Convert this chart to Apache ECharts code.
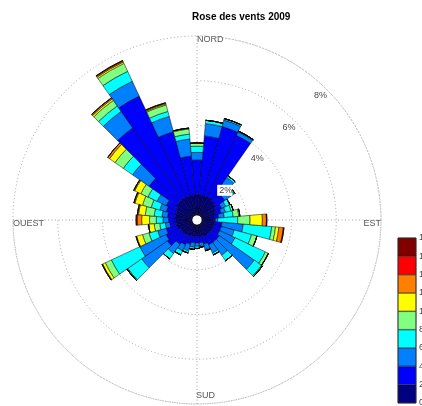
<!DOCTYPE html>
<html>
<head>
<meta charset="utf-8">
<script src="https://cdn.jsdelivr.net/npm/echarts@6/dist/echarts.min.js"></script>
<style>
html,body{margin:0;padding:0;background:#fff}
#main{width:422px;height:406px}
</style>
</head>
<body>
<div id="main"></div>
<script>
// directions (deg, clockwise from north)
var directions = [];
for (var d = 0; d < 360; d += 10) directions.push(String(d));

// speed classes (edges of the colour bar)
var speedEdges = [0, 2, 4, 6, 8, 10, 12, 14, 16, 18];
var binColors = ['#000080', '#0000ff', '#0080ff', '#00ffff', '#80ff80', '#ffff00', '#ff8000', '#ff0000', '#800000'];
var ringTicks = [2, 4, 6, 8];
var compass = ['NORD', 'EST', 'SUD', 'OUEST'];

// % of time per sector, one list per speed class (0,10,...,350 deg)
var v0_2 = [0.9,0.9,0.9,0.9,0.85,0.8,0.7,0.6,0.55,0.5,0.55,0.55,0.55,0.55,0.55,0.55,0.5,0.5,0.5,0.5,0.5,0.55,0.6,0.6,0.6,0.7,0.7,0.75,0.75,0.75,0.8,0.9,0.9,0.9,0.9,0.9];
var v2_4 = [1.56,2.65,3.2,3.05,0.85,0.5,0.3,0.3,0.2,0.1,0.35,0.35,0.35,0.45,0.45,0.45,0.4,0.3,0.3,0.3,0.4,0.45,0.5,0.8,0.7,0.5,0.3,0.3,0.35,0.45,0.5,1.5,3.9,4.99,2.96,1.75];
var v4_6 = [0.34,0.55,0.3,0.17,0.4,0.3,0.2,0.2,0.25,0.1,0.95,0.6,0.75,1.9,0.7,0.4,0.25,0.15,0.15,0.2,0.3,0.3,0.5,1.4,1.3,0.4,0.2,0.25,0.25,0.3,0.45,0.9,0.9,0.73,0.71,0.76];
var v6_8 = [0.28,0.15,0.07,0.04,0.09,0.2,0.2,0.25,0.4,0.9,1.28,0.8,1.5,0.4,0.3,0.1,0.05,0.05,0.1,0.1,0.1,0.2,0.3,0.75,1.4,0.4,0.25,0.3,0.35,0.4,0.45,0.5,0.3,0.49,0.23,0.22];
var v8_10 = [0.14,0,0,0,0,0.05,0,0.1,0.25,0.55,0.17,0.25,0.15,0.05,0,0,0,0,0,0,0,0,0,0.05,0.3,0.3,0.25,0.3,0.4,0.4,0.35,0.45,0.3,0.39,0.3,0.23];
var v10_12 = [0,0,0,0,0,0,0,0,0.05,0.55,0.15,0,0,0,0,0,0,0,0,0,0,0,0,0,0.13,0.27,0.25,0.35,0.3,0.35,0.3,0.3,0.08,0.07,0.05,0.04];
var v12_14 = [0,0,0,0,0,0,0,0,0,0.18,0.2,0,0,0,0,0,0,0,0,0,0,0,0,0,0.03,0.03,0,0.2,0.05,0.05,0.05,0.1,0.06,0.05,0.05,0];
var v14_16 = [0,0,0,0,0,0,0,0,0,0.02,0.03,0,0,0,0,0,0,0,0,0,0,0,0,0,0,0,0,0.05,0,0,0,0,0,0.02,0,0];
var v16_18 = [0,0,0,0,0,0,0,0,0,0,0,0,0,0,0,0,0,0,0,0,0,0,0,0,0,0,0,0,0,0,0,0,0,0.01,0,0];
var bins = [v0_2, v2_4, v4_6, v6_8, v8_10, v10_12, v12_14, v14_16, v16_18];

var CX = 197, CY = 220, R_IN = 5, R_OUT = 184;
var FONT = 'Liberation Sans, Arial, sans-serif';

var myChart = echarts.init(document.getElementById('main'));

var series = [];
for (var k = 0; k < bins.length; k++) {
    series.push({
        name: speedEdges[k] + '-' + speedEdges[k + 1],
        type: 'bar',
        coordinateSystem: 'polar',
        polarIndex: 0,
        stack: 'rose',
        barCategoryGap: '0%',
        data: bins[k],
        itemStyle: {color: binColors[k], borderColor: '#000', borderWidth: 0.5},
        silent: true
    });
}
// colour bar
for (var k = 0; k < bins.length; k++) {
    series.push({
        type: 'bar',
        xAxisIndex: 0,
        yAxisIndex: 0,
        stack: 'cb',
        barWidth: '100%',
        data: [speedEdges[k + 1] - speedEdges[k]],
        itemStyle: {color: binColors[k], borderColor: '#000', borderWidth: 0.5},
        silent: true
    });
}

var dotted = {color: '#a0a0a0', width: 1, type: [1, 2.5]};

var option = {
    animation: false,
    title: {
        text: 'Rose des vents 2009',
        left: 192, top: 12, padding: 0,
        textStyle: {fontSize: 10, fontWeight: 'bold', color: '#000', fontFamily: FONT}
    },
    polar: [
        {center: [CX, CY], radius: [R_IN, R_OUT]},
        {center: [CX, CY], radius: [R_IN, R_OUT]},
        {center: [CX, CY], radius: [R_IN, R_OUT]}
    ],
    angleAxis: [
        {polarIndex: 0, type: 'category', data: directions, startAngle: 95,
         axisLine: {show: false}, axisTick: {show: false}, axisLabel: {show: false}, splitLine: {show: false}},
        {polarIndex: 1, type: 'category', data: compass, startAngle: 90, boundaryGap: false, z: 0,
         axisLine: {show: true, lineStyle: dotted}, axisTick: {show: false}, axisLabel: {show: false},
         splitLine: {show: true, lineStyle: dotted}},
        {polarIndex: 2, type: 'category', data: compass, startAngle: 45, boundaryGap: false,
         axisLine: {show: false}, axisTick: {show: false}, axisLabel: {show: false}, splitLine: {show: false}}
    ],
    radiusAxis: [
        {polarIndex: 0, min: 0, max: 8, axisLine: {show: false}, axisTick: {show: false},
         axisLabel: {show: false}, splitLine: {show: false}},
        {polarIndex: 1, min: 0, max: 8, interval: 2, z: 0, axisLine: {show: false}, axisTick: {show: false},
         axisLabel: {show: false}, splitLine: {show: true, lineStyle: dotted}},
        {polarIndex: 2, min: 0, max: 8, interval: 2, z: 10, axisLine: {show: false}, axisTick: {show: false},
         splitLine: {show: false},
         axisLabel: {show: true, showMinLabel: false, margin: 0, align: 'right', verticalAlign: 'top',
             formatter: '{value}%', color: '#444', fontSize: 9, fontFamily: FONT,
             backgroundColor: '#fff', padding: [1, 0, 1, 2]}}
    ],
    grid: {left: 398, top: 238, width: 18, height: 165, outerBoundsMode: 'none',
        show: true, borderColor: '#333', borderWidth: 1},
    xAxis: {type: 'category', data: [''], show: false},
    yAxis: {type: 'value', min: speedEdges[0], max: speedEdges[speedEdges.length - 1], interval: 2,
        position: 'right', axisLine: {show: false}, axisTick: {show: false}, splitLine: {show: false},
        axisLabel: {color: '#444', fontSize: 9, margin: 3, fontFamily: FONT}},
    graphic: [
        {type: 'text', left: CX, top: CY - R_OUT - 1, style: {text: compass[0], fill: '#555', font: '9px ' + FONT}},
        {type: 'text', left: CX - 1, top: CY + R_OUT - 13, style: {text: compass[2], fill: '#555', font: '9px ' + FONT}},
        {type: 'text', left: CX - R_OUT, top: CY - 1, style: {text: compass[3], fill: '#555', font: '9px ' + FONT}},
        {type: 'text', right: 422 - CX - R_OUT, top: CY - 1, style: {text: compass[1], fill: '#555', font: '9px ' + FONT}}
    ],
    series: series
};
myChart.setOption(option);
</script>
</body>
</html>
